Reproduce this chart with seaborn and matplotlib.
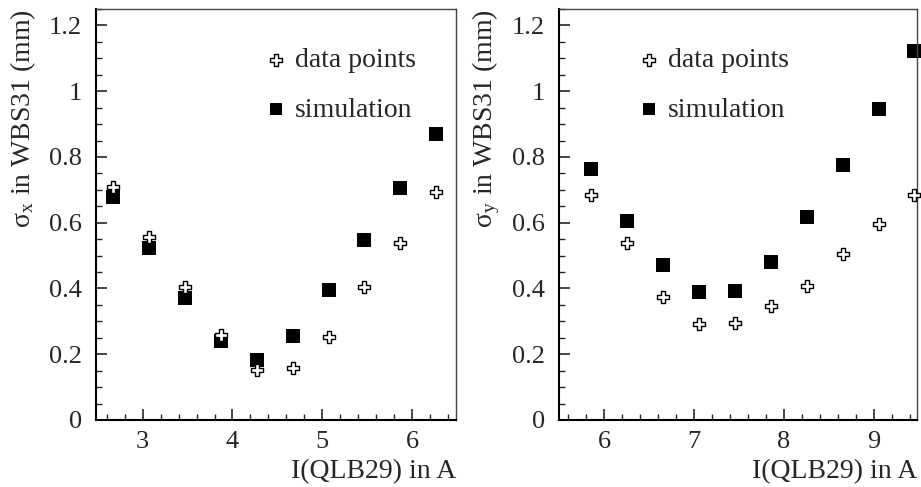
import matplotlib
matplotlib.use("Agg")
import matplotlib.pyplot as plt
import seaborn as sns
from matplotlib.ticker import MultipleLocator, FuncFormatter

# left panel: horizontal beam size
x_left = [2.67, 3.07, 3.47, 3.87, 4.27, 4.67, 5.07, 5.47, 5.87, 6.27]
data_left = [0.709, 0.557, 0.405, 0.258, 0.151, 0.157, 0.253, 0.405, 0.539, 0.693]
sim_left = [0.678, 0.522, 0.370, 0.240, 0.184, 0.255, 0.394, 0.547, 0.706, 0.869]

# right panel: vertical beam size
x_right = [5.86, 6.26, 6.66, 7.06, 7.46, 7.86, 8.26, 8.66, 9.06, 9.45]
data_right = [0.683, 0.539, 0.374, 0.293, 0.296, 0.348, 0.409, 0.506, 0.597, 0.685]
sim_right = [0.764, 0.605, 0.471, 0.389, 0.392, 0.480, 0.616, 0.775, 0.945, 1.121]

sns.set_style("white")
plt.rcParams['font.family'] = ['Liberation Serif', 'DejaVu Serif']
plt.rcParams['mathtext.fontset'] = 'stix'

fig = plt.figure(figsize=(9.21, 4.87), dpi=100)
ax1 = fig.add_axes([96 / 921, 1 - 420 / 487, 360 / 921, 411 / 487])
ax2 = fig.add_axes([559 / 921, 1 - 420 / 487, 358 / 921, 411 / 487])


def draw_panel(ax, x, data, sim, xlim, ylabel, legx):
    sns.scatterplot(x=x, y=data, marker='P', s=70, color='white', edgecolor='black',
                    linewidth=1, label='data points', ax=ax, zorder=3, clip_on=False)
    sns.scatterplot(x=x, y=sim, marker='s', s=100, color='black', edgecolor='black',
                    linewidth=0, label='simulation', ax=ax, zorder=2, clip_on=False)
    ax.set_xlim(*xlim)
    ax.set_ylim(0, 1.25)
    ax.xaxis.set_major_locator(MultipleLocator(1))
    ax.xaxis.set_minor_locator(MultipleLocator(0.2))
    ax.yaxis.set_major_locator(MultipleLocator(0.2))
    ax.yaxis.set_minor_locator(MultipleLocator(0.05))
    ax.yaxis.set_major_formatter(FuncFormatter(lambda v, p: '%g' % round(v, 2)))
    ax.xaxis.set_major_formatter(FuncFormatter(lambda v, p: '%g' % round(v, 2)))
    ax.tick_params(which='major', direction='in', length=8, width=1.2, labelsize=19,
                   left=True, bottom=True, top=False, right=False)
    ax.tick_params(which='minor', direction='in', length=4, width=1,
                   left=True, bottom=True, top=False, right=False)
    ax.tick_params(axis='x', which='major', pad=8)
    ax.tick_params(axis='y', which='major', pad=10)
    for side in ['left', 'bottom']:
        ax.spines[side].set_linewidth(1.5)
        ax.spines[side].set_color('black')
    for side in ['top', 'right']:
        ax.spines[side].set_linewidth(1)
        ax.spines[side].set_color('#444444')
    ax.set_xlabel('I(QLB29) in A', fontsize=20, loc='right')
    ax.xaxis.set_label_coords(1.0, -0.095)
    ax.set_ylabel(ylabel, fontsize=20, loc='top')
    ax.yaxis.set_label_coords(-0.16, 1.0)
    leg = ax.legend(loc='upper left', bbox_to_anchor=(legx, 0.905), frameon=False,
                    fontsize=20, borderpad=0, borderaxespad=0, handlelength=1,
                    handletextpad=0.2, labelspacing=0.85)
    leg.legend_handles[1].set_sizes([64])


draw_panel(ax1, x_left, data_left, sim_left, (2.48, 6.49),
           r'σ$_\mathregular{x}$ in WBS31 (mm)', 0.461)
draw_panel(ax2, x_right, data_right, sim_right, (5.5, 9.48),
           r'σ$_\mathregular{y}$ in WBS31 (mm)', 0.212)

fig.savefig('out.png', dpi=100)
